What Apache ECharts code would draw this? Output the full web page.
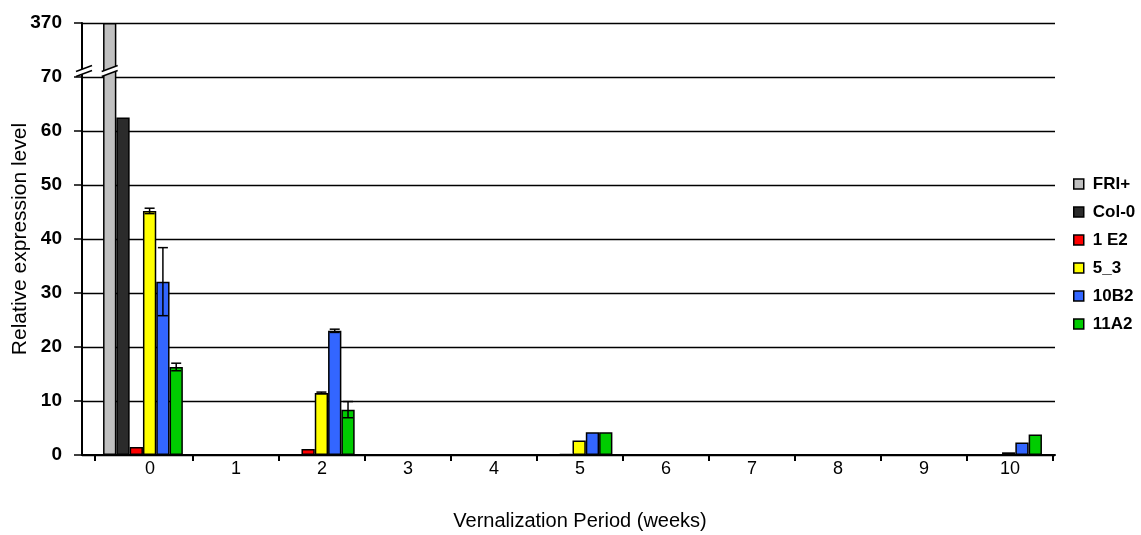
<!DOCTYPE html>
<html>
<head>
<meta charset="utf-8">
<script src="https://cdn.jsdelivr.net/npm/echarts@6/dist/echarts.min.js"></script>
<style>
  html, body { margin: 0; padding: 0; background: #fff; }
  #chart { width: 1141px; height: 535px; }
</style>
</head>
<body>
<div id="chart"></div>
<script>
// Vernalization time course: weeks of cold treatment
const categories = ['0', '1', '2', '3', '4', '5', '6', '7', '8', '9', '10'];
const seriesNames = ['FRI+', 'Col-0', '1 E2', '5_3', '10B2', '11A2'];
const seriesColors = ['#C0C0C0', '#2B2B2B', '#FF0000', '#FFFF00', '#3366FF', '#00CC00'];

// Relative expression level per line (null = not measured)
const friPlus = [370, null, null, null, null, null, null, null, null, null, null];
const col0    = [62.5, null, null, null, null, null, null, null, null, null, null];
const line1E2 = [1.5, 0, 1.1, 0, 0, 0.2, 0, 0, 0, 0, 0];
const line5_3 = [45.2, 0, 11.5, 0, 0, 2.7, 0, 0, 0, 0, 0.5];
const line10B2 = [32.1, 0, 23.0, 0, 0, 4.2, 0, 0, 0, 0, 2.3];
const line11A2 = [16.3, 0, 8.4, 0, 0, 4.2, 0, 0, 0, 0, 3.8];

// Standard error for the lines that carry error bars
const err5_3  = [0.5, null, 0.15, null, null, null, null, null, null, null, null];
const err10B2 = [6.3, null, 0.3, null, null, null, null, null, null, null, null];
const err11A2 = [0.7, null, 1.5, null, null, null, null, null, null, null, null];

// Broken value axis: 0-70 linear, the 70-370 stretch squeezed into one tick step
const BREAK_LOW = 70;
const BREAK_HIGH = 370;
const STEP = 10;
function toAxis(v) {
  if (v == null) return null;
  return v <= BREAK_LOW ? v : BREAK_LOW + (v - BREAK_LOW) * STEP / (BREAK_HIGH - BREAK_LOW);
}
function fromAxis(a) {
  return a <= BREAK_LOW ? a : BREAK_LOW + (a - BREAK_LOW) * (BREAK_HIGH - BREAK_LOW) / STEP;
}

const values = [friPlus, col0, line1E2, line5_3, line10B2, line11A2];
const errors = [null, null, null, err5_3, err10B2, err11A2];
const BAR_W = 13.3;

const errorData = [];
errors.forEach(function (errArr, k) {
  if (!errArr) return;
  errArr.forEach(function (e, i) {
    if (e == null) return;
    const v = values[k][i];
    errorData.push([i, toAxis(v + e), toAxis(Math.max(v - e, 0)), k]);
  });
});

const chart = echarts.init(document.getElementById('chart'), null, { renderer: 'canvas' });
const FONT = 'Arial, "Liberation Sans", sans-serif';
const Y_MAX = toAxis(BREAK_HIGH);

const hiddenY = function (gi) {
  return {
    type: 'value', gridIndex: gi, min: 0, max: Y_MAX, interval: STEP,
    show: false, splitLine: { show: false }
  };
};

const barSeries = seriesNames.map(function (name, k) {
  return {
    name: name,
    type: 'bar',
    xAxisIndex: 2,
    yAxisIndex: 2,
    barWidth: BAR_W,
    barGap: '0%',
    data: values[k].map(toAxis),
    itemStyle: { color: seriesColors[k], borderColor: '#000', borderWidth: 1.5 },
    emphasis: { disabled: true },
    animation: false,
    z: 3
  };
});

const errorSeries = {
  type: 'custom',
  xAxisIndex: 2,
  yAxisIndex: 2,
  data: errorData,
  z: 5,
  animation: false,
  silent: true,
  renderItem: function (params, api) {
    const k = api.value(3);
    const top = api.coord([api.value(0), api.value(1)]);
    const bot = api.coord([api.value(0), api.value(2)]);
    const x = top[0] + (k - 2.5) * BAR_W;
    const half = 5;
    const style = { stroke: '#000', lineWidth: 1.5 };
    return {
      type: 'group',
      children: [
        { type: 'line', shape: { x1: x, y1: top[1], x2: x, y2: bot[1] }, style: style },
        { type: 'line', shape: { x1: x - half, y1: top[1], x2: x + half, y2: top[1] }, style: style },
        { type: 'line', shape: { x1: x - half, y1: bot[1], x2: x + half, y2: bot[1] }, style: style }
      ]
    };
  }
};

chart.setOption({
  animation: false,
  textStyle: { fontFamily: FONT, color: '#000' },
  grid: [
    // frame: value axis, gridlines and baseline
    { left: 82, right: 86, top: 23, bottom: 80, outerBoundsMode: 'none', containLabel: false },
    // week ticks and labels
    { left: 107, right: 88, top: 23, bottom: 80, outerBoundsMode: 'none', containLabel: false },
    // bar groups
    { left: 100, right: 96, top: 23, bottom: 80, outerBoundsMode: 'none', containLabel: false }
  ],
  legend: {
    data: seriesNames,
    orient: 'vertical',
    left: 1068,
    top: 169,
    itemWidth: 10,
    itemHeight: 10,
    itemGap: 8,
    icon: 'rect',
    itemStyle: { borderColor: '#000', borderWidth: 1.5 },
    textStyle: { fontFamily: FONT, fontSize: 17, fontWeight: 'bold', color: '#000', lineHeight: 20, padding: [0, 0, 0, 4] },
    selectedMode: false
  },
  xAxis: [
    {
      type: 'category', gridIndex: 0, data: categories,
      axisLine: { show: true, lineStyle: { color: '#000', width: 2 } },
      axisTick: { show: false }, axisLabel: { show: false }, splitLine: { show: false }
    },
    {
      type: 'category', gridIndex: 1, data: categories,
      axisLine: { show: false },
      axisTick: {
        show: true, length: 6, lineStyle: { color: '#000', width: 2 },
        interval: function (index) { return index !== 0; }
      },
      axisLabel: { show: true, margin: 5, fontSize: 18, fontFamily: FONT, color: '#000', interval: 0 },
      name: 'Vernalization Period (weeks)',
      nameLocation: 'middle',
      nameGap: 56,
      nameMoveOverlap: false,
      nameTextStyle: { fontSize: 20, fontFamily: FONT, color: '#000' }
    },
    {
      type: 'category', gridIndex: 2, data: categories, show: false
    }
  ],
  yAxis: [
    {
      type: 'value', gridIndex: 0, min: 0, max: Y_MAX, interval: STEP,
      axisLine: { show: true, lineStyle: { color: '#000', width: 2 } },
      axisTick: { show: true, length: 8, lineStyle: { color: '#000', width: 1.5 } },
      axisLabel: {
        margin: 20, fontSize: 19, fontWeight: 'bold', fontFamily: FONT, color: '#000',
        formatter: function (a) { return String(Math.round(fromAxis(a))); }
      },
      splitLine: { show: true, lineStyle: { color: '#000', width: 1.3 } },
      name: 'Relative expression level',
      nameLocation: 'middle',
      nameGap: 51,
      nameMoveOverlap: false,
      nameTextStyle: { fontSize: 21, fontFamily: FONT, color: '#000' }
    },
    hiddenY(1),
    hiddenY(2)
  ],
  series: barSeries.concat([errorSeries])
});

// Break marks across the value axis and the tall FRI+ bar, plus the leading baseline tick
function breakMark(cx, cy) {
  const dx = 8, dy = 3, gap = 5;
  return {
    type: 'group',
    z: 100,
    children: [
      { type: 'polygon', shape: { points: [[cx - dx, cy + dy - gap / 2], [cx + dx, cy - dy - gap / 2], [cx + dx, cy - dy + gap / 2], [cx - dx, cy + dy + gap / 2]] },
        style: { fill: '#fff' }, z: 100 },
      { type: 'line', shape: { x1: cx - dx, y1: cy + dy - gap / 2, x2: cx + dx, y2: cy - dy - gap / 2 },
        style: { stroke: '#000', lineWidth: 1.5 }, z: 101 },
      { type: 'line', shape: { x1: cx - dx, y1: cy + dy + gap / 2, x2: cx + dx, y2: cy - dy + gap / 2 },
        style: { stroke: '#000', lineWidth: 1.5 }, z: 101 }
    ]
  };
}
const axisX = chart.convertToPixel({ xAxisIndex: 0 }, 0) - (chart.convertToPixel({ xAxisIndex: 0 }, 1) - chart.convertToPixel({ xAxisIndex: 0 }, 0)) / 2;
const yBreak = chart.convertToPixel({ yAxisIndex: 0 }, BREAK_LOW) - 6;
const barX = chart.convertToPixel({ xAxisIndex: 2 }, 0) - 2.5 * BAR_W;
const yBase = chart.convertToPixel({ yAxisIndex: 0 }, 0);
chart.setOption({
  graphic: [
    breakMark(axisX + 2, yBreak),
    breakMark(barX, yBreak),
    { type: 'line', z: 50, shape: { x1: axisX + 13, y1: yBase, x2: axisX + 13, y2: yBase + 6 }, style: { stroke: '#000', lineWidth: 2 } }
  ]
});
</script>
</body>
</html>
